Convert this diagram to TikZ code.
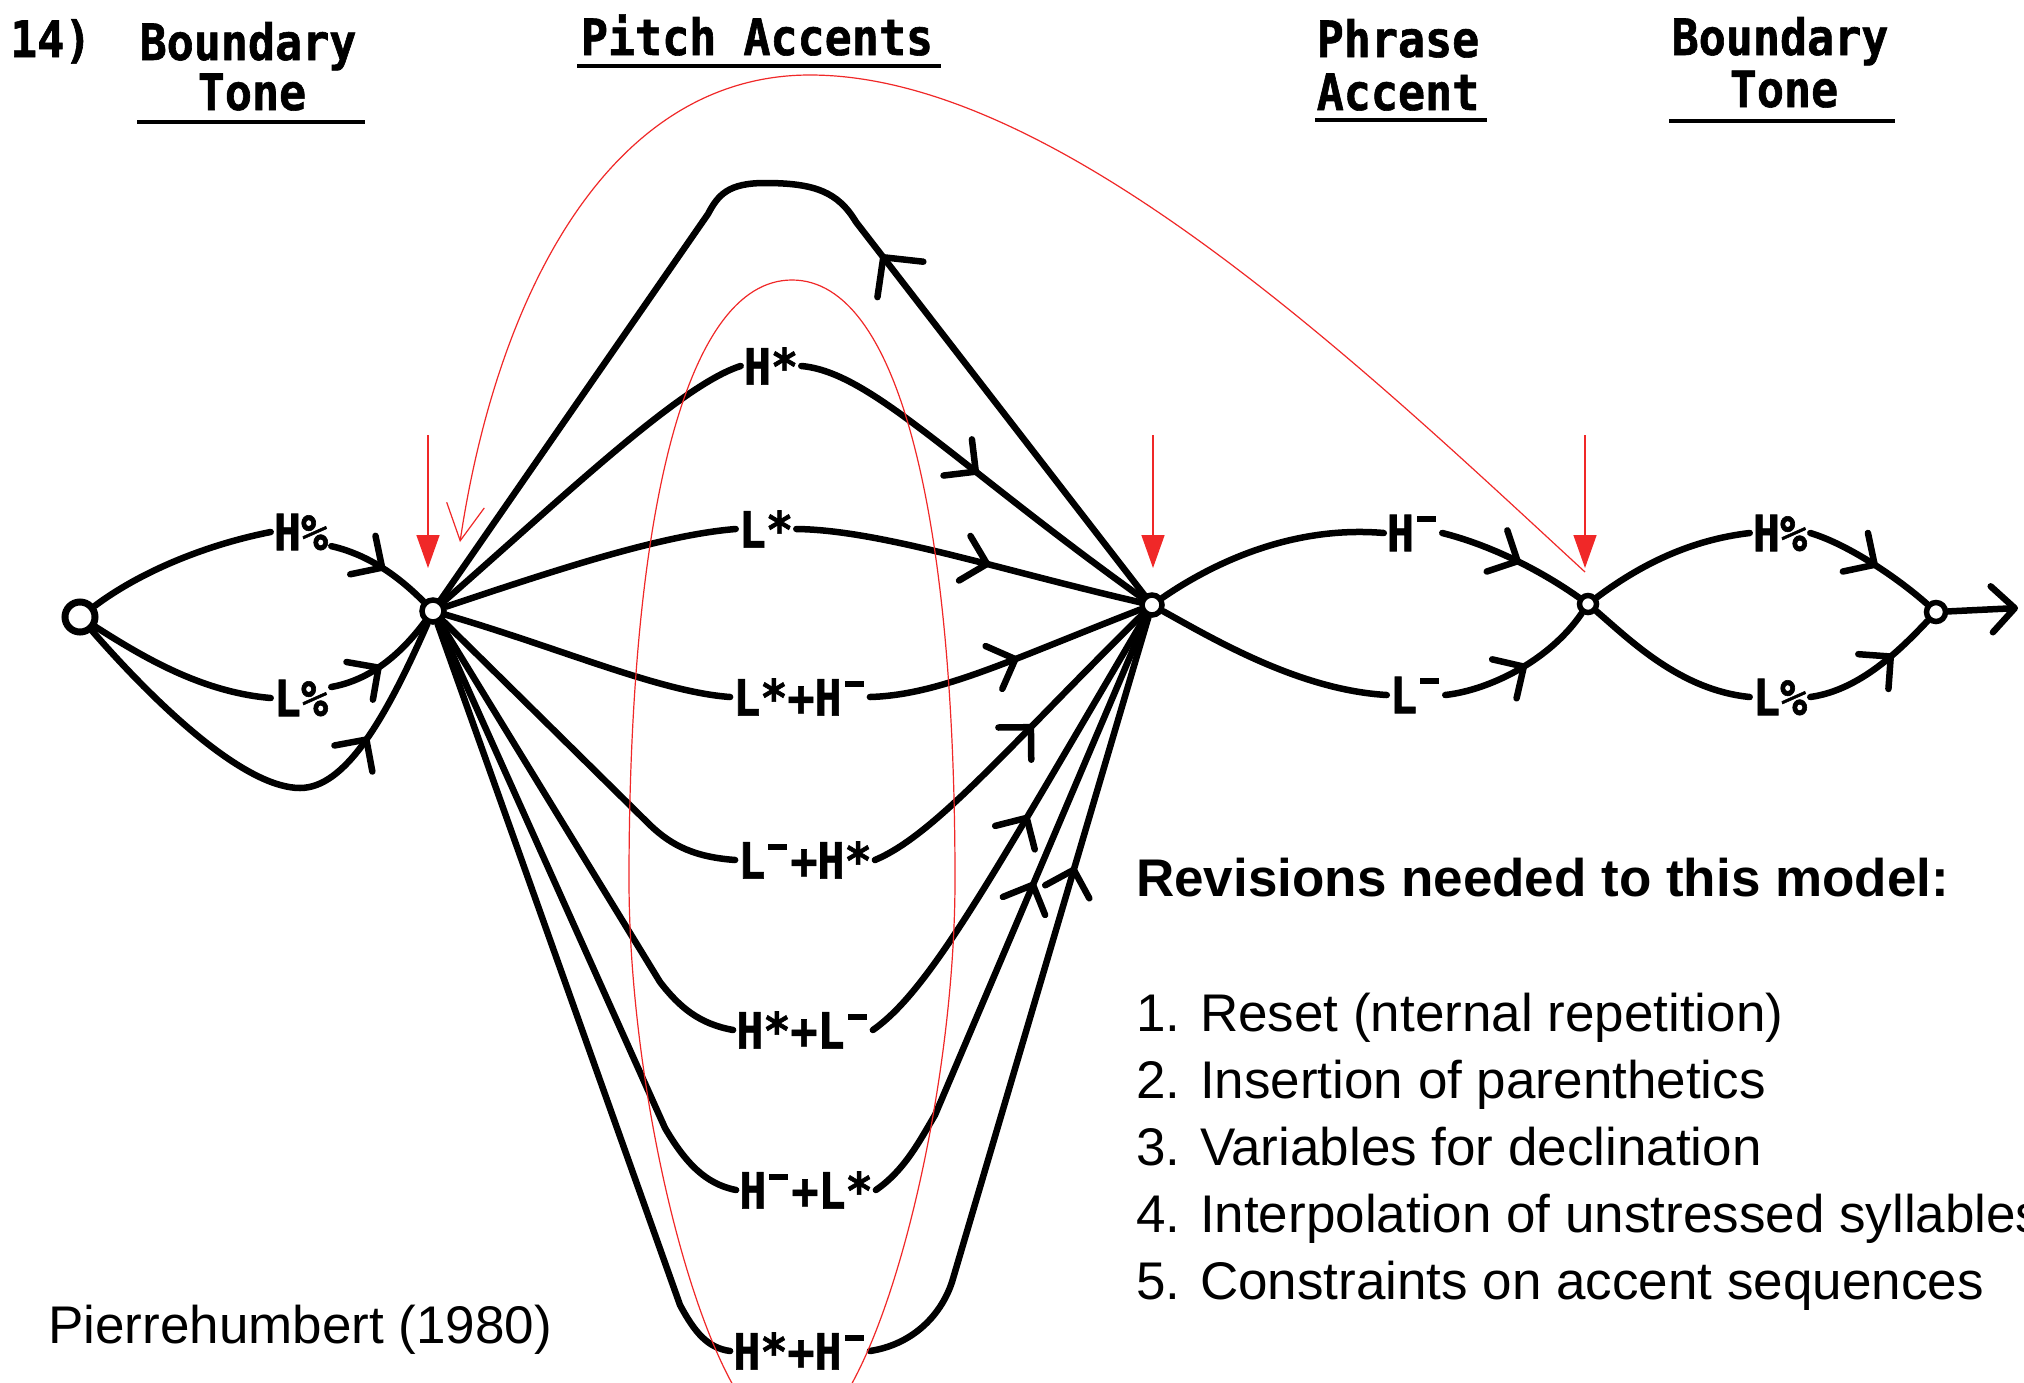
\documentclass[tikz,border=0pt]{standalone}
\usepackage{fontspec}
\newfontfamily\typefont[FakeStretch=0.9,BoldFeatures={FakeBold=1.2}]{DejaVu Sans Mono}
\newfontfamily\slidefont{Liberation Sans}
\usetikzlibrary{arrows.meta,decorations.markings}
\definecolor{annot}{RGB}{240,40,40}
% raised bar written after a tone letter (as in L* + H-)
\newcommand\hibar{\makebox[25pt][c]{\rule[29pt]{19pt}{6pt}}}
\tikzset{
  hbarb/.tip={Straight Barb[length=23pt,width=46pt,round]},
  bigbarb/.tip={Straight Barb[length=28pt,width=58pt,round]},
}
\begin{document}
\begin{tikzpicture}[x=1pt,y=-1pt,
  state/.style={circle,draw,fill=white,line width=5.5pt,inner sep=0pt},
  tone/.style={font=\typefont\bfseries\fontsize{50}{50}\selectfont,inner sep=3pt},
  header/.style={font=\typefont\bfseries\fontsize{50}{50}\selectfont,inner sep=0pt,anchor=base},
  hrule/.style={line width=4.5pt},
  link/.style={line width=6.5pt,line cap=round,line join=round},
  midtip/.style={postaction={decorate},decoration={markings,mark=at position #1 with {\arrow{hbarb}}}},
  bigtip/.style={postaction={decorate},decoration={markings,mark=at position #1 with {\arrow{bigbarb}}}},
  pointer/.style={annot,line width=1.5pt,-{Triangle[length=33pt,width=23pt]}},
  annotline/.style={annot,line width=1.2pt},
  slide/.style={font=\slidefont\fontsize{53}{60}\selectfont,anchor=base west,inner sep=0pt},
]
\useasboundingbox (0,0) rectangle (2024,1382);
\fill[white] (0,0) rectangle (2024,1382);
\clip (0,0) rectangle (2024,1382);

% column headings
\node[header,anchor=base west] (num) at (10,57) {14)};
\node[header] (hB1) at (248,60) {Boundary};
\node[header] (hT1) at (252,110) {Tone};
\node[header] (hPA) at (757,55) {Pitch Accents};
\node[header] (hP) at (1398,57) {Phrase};
\node[header] (hA) at (1398,110) {Accent};
\node[header] (hB2) at (1780,55) {Boundary};
\node[header] (hT2) at (1784,107) {Tone};
\draw[hrule] (137,122) -- (365,122);
\draw[hrule] (577,66) -- (941,66);
\draw[hrule] (1315,120) -- (1487,120);
\draw[hrule] (1669,121) -- (1895,121);

% states
\node[state,minimum size=30pt,line width=7pt] (A) at (80,617) {};
\node[state,minimum size=22pt] (B) at (433,611) {};
\node[state,minimum size=20pt] (C) at (1152,605) {};
\node[state,minimum size=17pt] (D) at (1588,604) {};
\node[state,minimum size=19pt] (E) at (1936,612) {};
\coordinate (out) at (2018,608);

% tone labels
\node[tone] (bH) at (301,532) {H\%};
\node[tone] (bL) at (301,698) {L\%};
\node[tone] (pHs) at (771,366) {H*};
\node[tone] (pLs) at (766,529) {L*};
\node[tone] (pLsH) at (800,697) {L*+H\hibar};
\node[tone] (pLHs) at (805,860) {L\hibar+H*};
\node[tone] (pHsL) at (803,1030) {H*+L\hibar};
\node[tone] (pHLs) at (806,1190) {H\hibar+L*};
\node[tone] (pHsH) at (800,1351) {H*+H\hibar};
\node[tone] (aH) at (1413,533) {H\hibar};
\node[tone] (aL) at (1416,695) {L\hibar};
\node[tone] (eH) at (1780,533) {H\%};
\node[tone] (eL) at (1780,697) {L\%};

% initial boundary tone
\draw[link] (A) .. controls (140,572) and (205,545) .. (bH.west);
\draw[link,midtip=-50pt] (bH.-25) .. controls (370,555) and (400,578) .. (B);
\draw[link] (A) .. controls (140,655) and (200,692) .. (bL.west);
\draw[link,midtip=-62pt] (bL.20) .. controls (370,680) and (400,655) .. (B);
\draw[link,midtip=-128pt] (A) .. controls (170,720) and (250,788) .. (300,788) .. controls (345,788) and (385,720) .. (B);

% pitch accents
\draw[link,bigtip=430pt] (C) -- (856,222) .. controls (838,192) and (815,183) .. (765,183) .. controls (728,183) and (718,195) .. (708,214) -- (B);
\draw[link] (B) .. controls (560,500) and (680,385) .. (pHs.west);
\draw[link,midtip=-205pt] (pHs.east) .. controls (870,372) and (950,460) .. (C);
\draw[link] (B) .. controls (550,572) and (660,535) .. (pLs.west);
\draw[link,midtip=-154pt] (pLs.east) .. controls (880,530) and (1000,570) .. (C);
\draw[link] (B) .. controls (560,648) and (660,692) .. (pLsH.west);
\draw[link,midtip=-131pt] (pLsH.east) .. controls (940,695) and (1010,660) .. (C);
\draw[link] (B) -- (650,825) .. controls (672,846) and (695,857) .. (pLHs.west);
\draw[link,midtip=-156pt] (pLHs.east) .. controls (935,835) and (1010,745) .. (C);
\draw[link] (B) -- (660,982) .. controls (680,1008) and (700,1024) .. (pHsL.west);
\draw[link,midtip=-231pt] (pHsL.east) .. controls (930,990) and (990,880) .. (C);
\draw[link] (B) -- (665,1128) .. controls (685,1162) and (705,1184) .. (pHLs.west);
\draw[link,midtip=-288pt] (pHLs.east) .. controls (905,1170) and (920,1140) .. (935,1115) -- (C);
\draw[link] (B) -- (680,1305) .. controls (695,1333) and (708,1348) .. (pHsH.west);
\draw[link,midtip=-260pt] (pHsH.east) .. controls (910,1345) and (940,1318) .. (952,1282) -- (C);

% phrase accents
\draw[link] (C) .. controls (1210,565) and (1290,525) .. (aH.west);
\draw[link,midtip=-68pt] (aH.east) .. controls (1490,545) and (1540,570) .. (D);
\draw[link] (C) .. controls (1215,640) and (1300,690) .. (aL.west);
\draw[link,midtip=-76pt] (aL.east) .. controls (1490,690) and (1550,660) .. (D);

% final boundary tone
\draw[link] (D) .. controls (1640,565) and (1690,540) .. (eH.west);
\draw[link,midtip=-62pt] (eH.east) .. controls (1850,545) and (1900,580) .. (E);
\draw[link] (D) .. controls (1630,640) and (1680,690) .. (eL.west);
\draw[link,midtip=-48pt] (eL.east) .. controls (1860,690) and (1900,650) .. (E);
\draw[link,-hbarb] (E) -- (out);

% notes
\node[slide,font=\slidefont\bfseries\fontsize{53}{60}\selectfont] (rev) at (1136,896) {Revisions needed to this model:};
\node[slide] (r1) at (1136,1031) {1. Reset (nternal repetition)};
\node[slide] (r2) at (1136,1098) {2. Insertion of parenthetics};
\node[slide] (r3) at (1136,1165) {3. Variables for declination};
\node[slide] (r4) at (1136,1232) {4. Interpolation of unstressed syllables};
\node[slide] (r5) at (1136,1299) {5. Constraints on accent sequences};
\node[slide] (src) at (48,1343) {Pierrehumbert (1980)};

% red markup
\coordinate (pbT) at (428,435); \coordinate (pbB) at (428,568);
\coordinate (pcT) at (1153,435); \coordinate (pcB) at (1153,568);
\coordinate (pdT) at (1585,435); \coordinate (pdB) at (1585,568);
\draw[pointer] (pbT) -- (pbB);
\draw[pointer] (pcT) -- (pcB);
\draw[pointer] (pdT) -- (pdB);
\coordinate (arcS) at (1585,572);
\coordinate (arcE) at (460,542);
\draw[annotline,-{Straight Barb[length=36pt,width=38pt]}] (arcS) .. controls (1369,373) and (1060,75) .. (810,75) .. controls (610,75) and (497,294) .. (arcE);
\draw[annotline] (792,280) .. controls (900,280) and (955,520) .. (955,880) .. controls (955,1120) and (870,1440) .. (792,1440) .. controls (714,1440) and (629,1120) .. (629,880) .. controls (629,520) and (684,280) .. cycle;
\end{tikzpicture}
\end{document}
